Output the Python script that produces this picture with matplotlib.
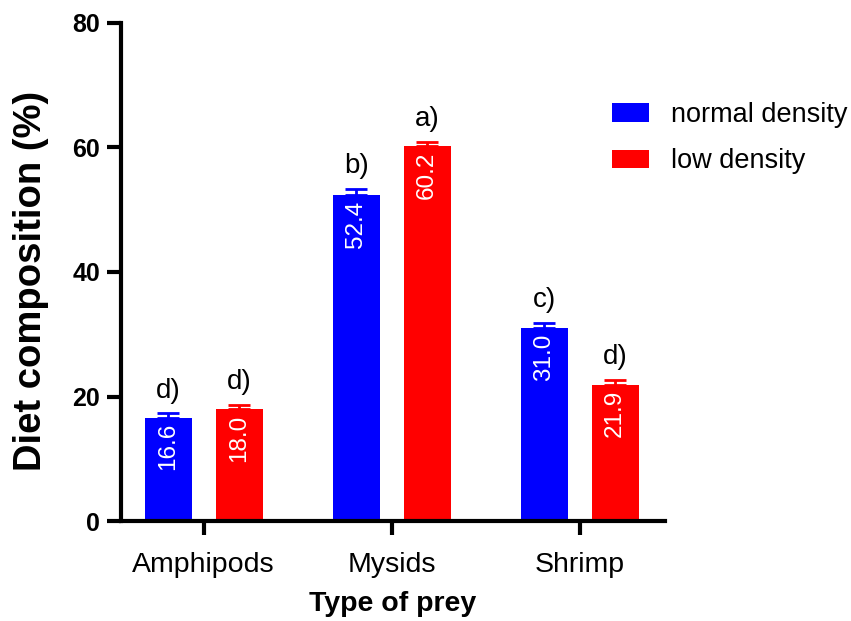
import matplotlib
matplotlib.use('Agg')
import matplotlib.pyplot as plt
import numpy as np

plt.rcParams['font.family'] = ['Liberation Sans', 'DejaVu Sans']

prey = ['Amphipods', 'Mysids', 'Shrimp']
normal = [16.6, 52.4, 31.0]
normal_err = [0.7, 1.0, 0.8]
normal_letters = ['d)', 'b)', 'c)']
low = [18.0, 60.2, 21.9]
low_err = [0.7, 0.7, 0.8]
low_letters = ['d)', 'a)', 'd)']

fig = plt.figure(figsize=(8.51, 6.21), dpi=100)
ax = fig.add_axes([0.142, 0.161, 0.639, 0.802])

x = np.arange(len(prey))
w = 0.25
off = 0.189

for vals, errs, letters, col, lab, sign in [
        (normal, normal_err, normal_letters, '#0000ff', 'normal density', -1),
        (low, low_err, low_letters, '#ff0000', 'low density', 1)]:
    pos = x + sign * off
    ax.bar(pos, vals, w, color=col, label=lab)
    ax.errorbar(pos, vals, yerr=[np.zeros(len(errs)), errs], fmt='none',
                ecolor=col, elinewidth=2, capsize=8, capthick=2)
    for p, v, e, t in zip(pos, vals, errs, letters):
        ax.annotate('{:.1f}'.format(v), (p, v), xytext=(0, -4),
                    textcoords='offset points', ha='center', va='top',
                    rotation=90, color='white', fontsize=17.5)
        ax.annotate(t, (p, v + e), xytext=(0, 7), textcoords='offset points',
                    ha='center', va='bottom', fontsize=20)

ax.set_xlim(-0.441, 2.452)
ax.set_ylim(0, 80)
ax.set_yticks([0, 20, 40, 60, 80])
ax.set_xticks(x)
ax.set_xticklabels(prey, fontsize=20.5)
for lbl in ax.get_yticklabels():
    lbl.set_fontweight('bold')
    lbl.set_fontsize(18)

for s in ['top', 'right']:
    ax.spines[s].set_visible(False)
for s in ['left', 'bottom']:
    ax.spines[s].set_linewidth(3)
ax.tick_params(axis='both', width=3, length=10)
ax.tick_params(axis='x', pad=12)
ax.tick_params(axis='y', pad=5)

ax.set_ylabel('Diet composition (%)', fontsize=27.5, fontweight='bold')
ax.yaxis.set_label_coords(-0.132, 0.482)
ax.set_xlabel('Type of prey', fontsize=20.5, fontweight='bold', labelpad=10)

leg = fig.legend(loc='upper left', bbox_to_anchor=(0.691, 0.875), frameon=False,
                 fontsize=19.5, handlelength=1.35, handleheight=0.65,
                 handletextpad=0.8, labelspacing=0.75)

fig.savefig('out.png', dpi=100)
